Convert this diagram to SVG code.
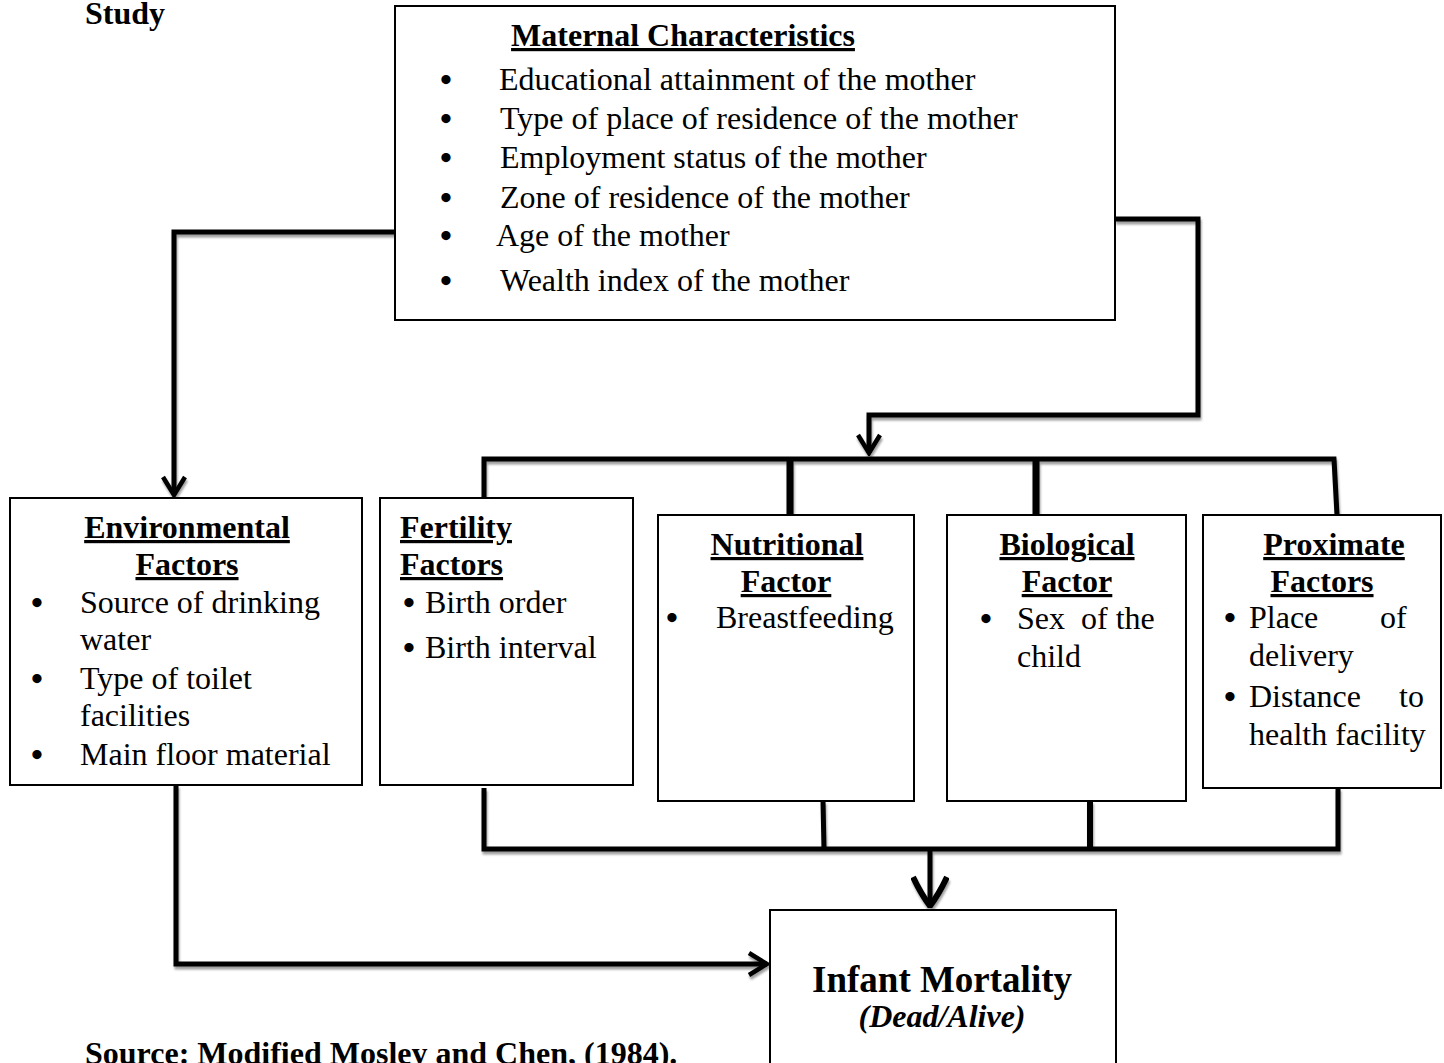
<svg xmlns="http://www.w3.org/2000/svg" width="1444" height="1063" viewBox="0 0 1444 1063">
<style>
text{font-family:"Liberation Serif","Times New Roman",serif;font-size:32px;fill:#000}
.b{font-weight:bold}
.u{text-decoration:underline}
.c{text-anchor:middle}
.bl{font-size:34px;font-weight:bold}
.box{fill:#fff;stroke:#000;stroke-width:2}
.ln{fill:none;stroke:#000;stroke-width:5;stroke-linejoin:miter}
</style>
<defs>
<filter id="sh" x="-10%" y="-10%" width="120%" height="120%">
<feDropShadow dx="1" dy="3" stdDeviation="1.3" flood-color="#000" flood-opacity="0.38"/>
</filter>
<marker id="vee" markerUnits="userSpaceOnUse" viewBox="0 0 24 26" markerWidth="24" markerHeight="26" refX="21" refY="13" orient="auto">
<path d="M3,2 L21,13 L3,24" fill="none" stroke="#000" stroke-width="4.5"/>
</marker>
<marker id="veeBig" markerUnits="userSpaceOnUse" viewBox="0 0 34 38" markerWidth="34" markerHeight="38" refX="32" refY="19" orient="auto">
<path d="M3,2 Q20,10 32,19 Q20,28 3,36" fill="none" stroke="#000" stroke-width="6"/>
</marker>
</defs>
<rect width="1444" height="1063" fill="#fff"/>

<text class="b" x="85" y="24">Study</text>

<g id="connectors" filter="url(#sh)">
<path class="ln" d="M395,232 H174 V495" marker-end="url(#vee)"/>
<path class="ln" d="M1115,219 H1198 V415 H869 V453" marker-end="url(#vee)"/>
<path class="ln" d="M484,498 V459 H1334 L1337,515"/>
<path class="ln" style="stroke-width:7" d="M790,459 V515"/>
<path class="ln" style="stroke-width:7" d="M1036,459 V515"/>
<path class="ln" d="M484,788 V849 H1338 V788"/>
<path class="ln" d="M823,801 L824,849"/>
<path class="ln" style="stroke-width:6" d="M1090,801 V849"/>
<path class="ln" d="M930,849 V906" marker-end="url(#veeBig)"/>
<path class="ln" d="M176,785 V964 H767" marker-end="url(#vee)"/>
</g>

<g id="maternal">
<rect class="box" x="395" y="6" width="720" height="314"/>
<text class="b u c" x="683" y="46">Maternal Characteristics</text>
<text class="bl" x="440" y="91">•</text><text x="499" y="90">Educational attainment of the mother</text>
<text class="bl" x="440" y="130">•</text><text x="500" y="129">Type of place of residence of the mother</text>
<text class="bl" x="440" y="169">•</text><text x="500" y="168">Employment status of the mother</text>
<text class="bl" x="440" y="209">•</text><text x="500" y="208">Zone of residence of the mother</text>
<text class="bl" x="440" y="247">•</text><text x="496" y="246">Age of the mother</text>
<text class="bl" x="440" y="292">•</text><text x="500" y="291">Wealth index of the mother</text>
</g>

<g id="environmental">
<rect class="box" x="10" y="498" width="352" height="287"/>
<text class="b u c" x="187" y="538">Environmental</text>
<text class="b u c" x="187" y="575">Factors</text>
<text class="bl" x="31" y="614">•</text><text x="80" y="613">Source of drinking</text>
<text x="80" y="650">water</text>
<text class="bl" x="31" y="690">•</text><text x="80" y="689">Type of toilet</text>
<text x="80" y="726">facilities</text>
<text class="bl" x="31" y="766">•</text><text x="80" y="765">Main floor material</text>
</g>

<g id="fertility">
<rect class="box" x="380" y="498" width="253" height="287"/>
<text class="b u" x="400" y="538">Fertility</text>
<text class="b u" x="400" y="575">Factors</text>
<text class="bl" x="403" y="614">•</text><text x="425" y="613">Birth order</text>
<text class="bl" x="403" y="659">•</text><text x="425" y="658">Birth interval</text>
</g>

<g id="nutritional">
<rect class="box" x="658" y="515" width="256" height="286"/>
<text class="b u c" x="787" y="555">Nutritional</text>
<text class="b u c" x="786" y="592">Factor</text>
<text class="bl" x="666" y="629">•</text><text x="716" y="628">Breastfeeding</text>
</g>

<g id="biological">
<rect class="box" x="947" y="515" width="239" height="286"/>
<text class="b u c" x="1067" y="555">Biological</text>
<text class="b u c" x="1067" y="592">Factor</text>
<text class="bl" x="980" y="630">•</text><text x="1017" y="629" xml:space="preserve">Sex  of the</text>
<text x="1017" y="667">child</text>
</g>

<g id="proximate">
<rect class="box" x="1203" y="515" width="238" height="273"/>
<text class="b u c" x="1334" y="555">Proximate</text>
<text class="b u c" x="1322" y="592">Factors</text>
<text class="bl" x="1224" y="629">•</text><text y="628"><tspan x="1249">Place</tspan><tspan x="1380">of</tspan></text>
<text x="1249" y="666">delivery</text>
<text class="bl" x="1224" y="708">•</text><text y="707"><tspan x="1249">Distance</tspan><tspan x="1399">to</tspan></text>
<text x="1249" y="745">health facility</text>
</g>

<g id="infant">
<rect class="box" x="770" y="910" width="346" height="170"/>
<text class="b c" x="942" y="992" style="font-size:37px">Infant Mortality</text>
<text class="b c" x="942" y="1027" style="font-style:italic">(Dead/Alive)</text>
</g>

<text class="b" x="85" y="1064">Source: Modified Mosley and Chen, (1984).</text>
</svg>
